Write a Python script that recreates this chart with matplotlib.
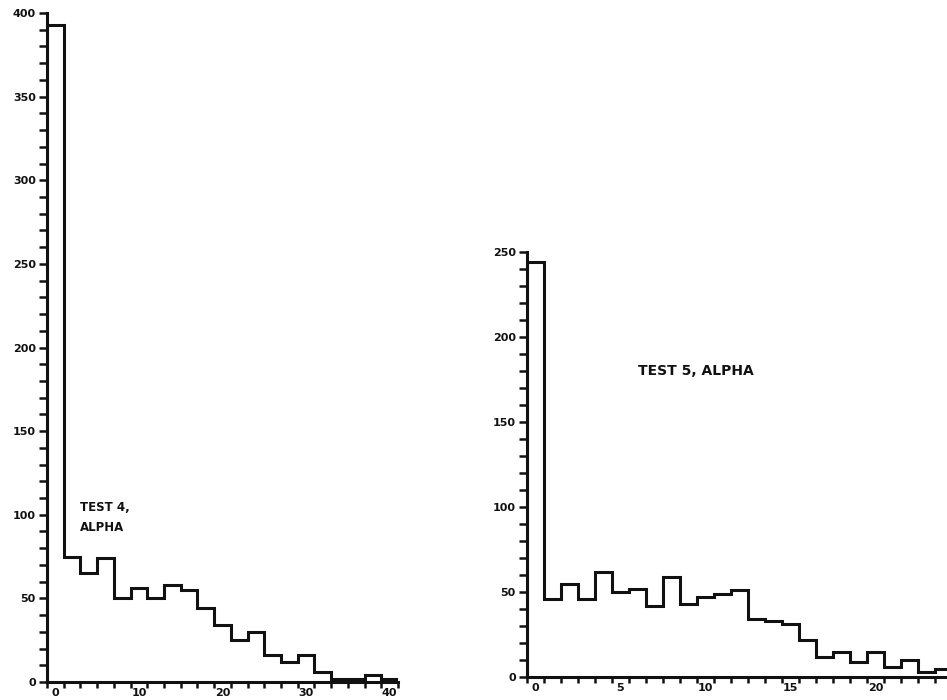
import matplotlib
matplotlib.use("Agg")
import matplotlib.pyplot as plt
from matplotlib.transforms import ScaledTranslation

# Test 4, alpha: counts in 2-unit bins from 0 to 42
t4_edges = list(range(0, 44, 2))
t4_counts = [393, 75, 65, 74, 50, 56, 50, 58, 55, 44, 34,
             25, 30, 16, 12, 16, 6, 2, 2, 4, 1.5]

# Test 5, alpha: counts in 1-unit bins from 0 to 25
t5_edges = list(range(0, 26))
t5_counts = [244, 46, 55, 46, 62, 50, 52, 42, 59, 43, 47, 49, 51,
             34, 33, 31, 22, 12, 15, 9, 15, 6, 10, 3, 5]

t4_xticks = list(range(0, 44, 2))
t4_xlabels = ["0", "10", "20", "30", "40"]
t4_yticks = list(range(0, 410, 10))
t4_ylabels = ["0", "50", "100", "150", "200", "250", "300", "350", "400"]

t5_xticks = list(range(0, 27))
t5_xlabels = ["0", "5", "10", "15", "20"]
t5_yticks = list(range(0, 260, 10))
t5_ylabels = ["0", "50", "100", "150", "200", "250"]

plt.rcParams["font.family"] = ["DejaVu Sans"]
fig = plt.figure(figsize=(9.47, 7.0), dpi=100)
fig.patch.set_facecolor("white")

INK = "#111111"


def style_axes(ax, xticks, xlabel_vals, yticks, ylabel_vals):
    for side in ("top", "right"):
        ax.spines[side].set_visible(False)
    for side in ("left", "bottom"):
        ax.spines[side].set_linewidth(2.2)
        ax.spines[side].set_color(INK)
    ax.set_xticks(xticks)
    ax.set_xticklabels([str(v) if str(v) in xlabel_vals else "" for v in xticks])
    ax.set_yticks(yticks)
    ax.set_yticklabels([str(v) if str(v) in ylabel_vals else "" for v in yticks])
    ax.tick_params(axis="both", direction="out", width=1.8,
                   color=INK, labelcolor=INK, labelsize=8)
    ax.tick_params(axis="x", length=4, pad=0)
    ax.tick_params(axis="y", length=6, pad=2)
    shift = ScaledTranslation(6 / 72, 0, fig.dpi_scale_trans)
    for lbl in ax.get_xticklabels():
        lbl.set_transform(lbl.get_transform() + shift)
        lbl.set_fontweight("bold")
    for lbl in ax.get_yticklabels():
        lbl.set_fontweight("bold")


# Left panel
ax1 = fig.add_axes([47 / 947, 18 / 700, 351 / 947, 669 / 700])
ax1.stairs(t4_counts, t4_edges, color=INK, linewidth=2.2, baseline=0)
ax1.set_xlim(0, 42)
ax1.set_ylim(0, 400)
style_axes(ax1, t4_xticks, t4_xlabels, t4_yticks, t4_ylabels)
ax1.text(4.0, 108, "TEST 4,\nALPHA", fontsize=8.5, fontweight="bold",
         color=INK, ha="left", va="top", linespacing=1.7)

# Right panel
ax2 = fig.add_axes([527 / 947, 23 / 700, 442 / 947, 425 / 700])
ax2.stairs(t5_counts, t5_edges, color=INK, linewidth=2.2, baseline=0)
ax2.set_xlim(0, 26)
ax2.set_ylim(0, 250)
style_axes(ax2, t5_xticks, t5_xlabels, t5_yticks, t5_ylabels)
ax2.text(6.5, 180, "TEST 5, ALPHA", fontsize=10, fontweight="bold",
         color=INK, ha="left", va="center")

fig.savefig("out.png", dpi=100, facecolor="white")
